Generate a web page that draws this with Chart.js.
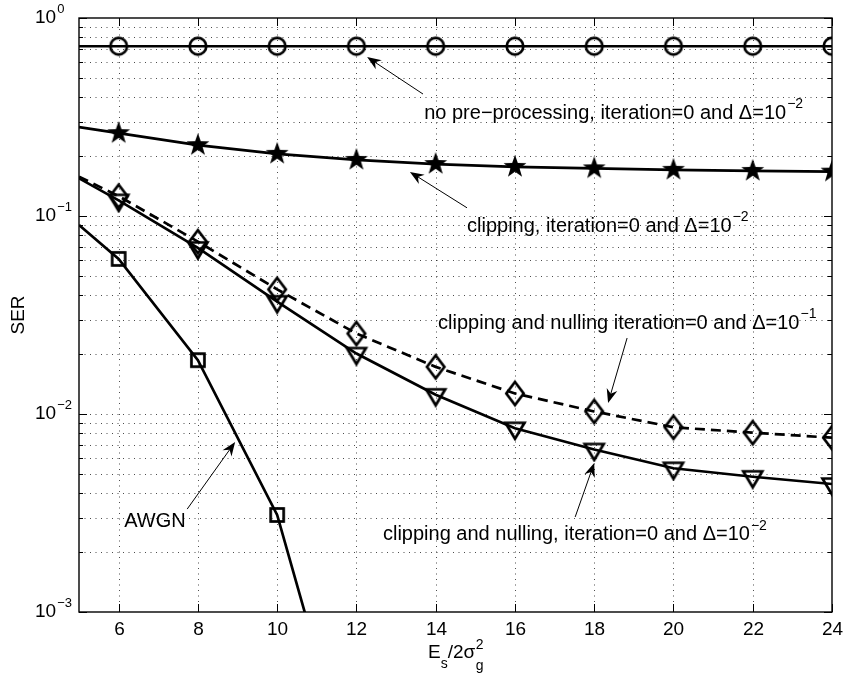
<!DOCTYPE html>
<html>
<head>
<meta charset="utf-8">
<script src="https://cdn.jsdelivr.net/npm/chart.js@4"></script>
<style>
  html, body { margin: 0; padding: 0; background: #fff; }
  #wrap { width: 846px; height: 678px; }
</style>
</head>
<body>
<div id="wrap"><canvas id="c" width="846" height="678"></canvas></div>
<script>
// SNR axis (Es/2σg²) and symbol error rates per scheme
const snr = [5, 6, 8, 10, 12, 14, 16, 18, 20, 22, 24];
const awgnSnr = [5, 6, 8, 10, 12];
const serNoPre = [0.72, 0.72, 0.72, 0.72, 0.72, 0.72, 0.72, 0.72, 0.72, 0.72, 0.72];
const serClip = [0.281, 0.262, 0.228, 0.206, 0.192, 0.183, 0.177, 0.174, 0.171, 0.169, 0.1675];
const serClipNullD1 = [0.158, 0.126, 0.0742, 0.0426, 0.0255, 0.0173, 0.0127, 0.0103, 0.00857, 0.00805, 0.00759];
const serClipNullD2 = [0.155, 0.120, 0.069, 0.0369, 0.0202, 0.0125, 0.00847, 0.00662, 0.00532, 0.00482, 0.00443];
const serAwgn = [0.090, 0.0607, 0.0187, 0.00309, 0.00012];

const xTicks = [6, 8, 10, 12, 14, 16, 18, 20, 22, 24];
const yDecades = [-3, -2, -1, 0];

const FONT = '"Liberation Sans", Arial, Helvetica, sans-serif';

// ---- marker glyphs (open symbols, filled pentagram) ----
function makeMarker(w, h, draw) {
  const c = document.createElement('canvas');
  c.width = w; c.height = h;
  const g = c.getContext('2d');
  g.translate(w / 2, h / 2);
  g.strokeStyle = '#000';
  g.fillStyle = '#000';
  g.lineWidth = 2.7;
  g.lineJoin = 'miter';
  draw(g);
  return c;
}
const mCircle = makeMarker(24, 24, g => { g.beginPath(); g.arc(0, 0, 8.3, 0, Math.PI * 2); g.stroke(); });
const mSquare = makeMarker(20, 20, g => { g.strokeRect(-6.5, -6.5, 13, 13); });
const mTriDown = makeMarker(26, 26, g => {
  g.beginPath(); g.moveTo(-9.5, -5.5); g.lineTo(9.5, -5.5); g.lineTo(0, 10.5); g.closePath(); g.stroke();
});
const mDiamond = makeMarker(24, 30, g => {
  g.beginPath(); g.moveTo(0, -11.5); g.lineTo(8.7, 0); g.lineTo(0, 11.5); g.lineTo(-8.7, 0); g.closePath(); g.stroke();
});
const mStar = makeMarker(28, 28, g => {
  g.beginPath();
  for (let i = 0; i < 10; i++) {
    const r = i % 2 === 0 ? 12 : 4.8;
    const a = -Math.PI / 2 + i * Math.PI / 5;
    const px = r * Math.cos(a), py = r * Math.sin(a);
    if (i === 0) g.moveTo(px, py); else g.lineTo(px, py);
  }
  g.closePath(); g.fill();
});

function pts(xs, ys) { return xs.map((x, i) => ({ x: x, y: ys[i] })); }
// no symbol on the first (axis-edge) sample
function radii(xs) { return xs.map(x => (x === 5 ? 0 : 8)); }

function series(xs, ys, marker, dash) {
  return {
    data: pts(xs, ys),
    showLine: true,
    borderColor: '#000',
    borderWidth: 2.7,
    borderDash: dash || [],
    backgroundColor: 'rgba(0,0,0,0)',
    pointStyle: marker,
    pointRadius: radii(xs),
    pointHoverRadius: radii(xs),
    tension: 0
  };
}

// ---- annotations, in data coordinates ----
const notes = [
  { x: 13.71, y: 0.331, parts: [['no pre\u2212processing, iteration=0 and \u0394=10'], ['\u22122', 'sup']] },
  { x: 14.79, y: 0.0890, parts: [['clipping, iteration=0 and \u0394=10'], ['\u22122', 'sup']] },
  { x: 14.06, y: 0.0288, parts: [['clipping and nulling iteration=0 and \u0394=10'], ['\u22121', 'sup']] },
  { x: 12.67, y: 0.00245, parts: [['clipping and nulling, iteration=0 and \u0394=10'], ['\u22122', 'sup']] },
  { x: 6.14, y: 0.00285, parts: [['AWGN']] }
];
const arrows = [
  { from: [13.68, 0.413], to: [12.27, 0.635] },
  { from: [14.79, 0.110], to: [13.35, 0.167] },
  { from: [18.83, 0.0242], to: [18.35, 0.01137] },
  { from: [17.52, 0.00302], to: [18.0, 0.00566] },
  { from: [7.73, 0.00331], to: [8.94, 0.00722] }
];

function drawParts(ctx, parts, x, y, size, supSize) {
  let cx = x;
  ctx.textBaseline = 'middle';
  ctx.textAlign = 'left';
  parts.forEach(p => {
    const kind = p[1];
    if (kind === 'sup') {
      ctx.font = supSize + 'px ' + FONT;
      ctx.fillText(p[0], cx + 1, y - size * 0.45);
      cx += ctx.measureText(p[0]).width + 1;
    } else {
      ctx.font = size + 'px ' + FONT;
      ctx.fillText(p[0], cx, y);
      cx += ctx.measureText(p[0]).width;
    }
  });
  return cx - x;
}

function drawArrow(ctx, x1, y1, x2, y2) {
  const ang = Math.atan2(y2 - y1, x2 - x1);
  const L = 14, W = 5.5, notch = 4.5;
  ctx.save();
  ctx.strokeStyle = '#000';
  ctx.fillStyle = '#000';
  ctx.lineWidth = 1;
  ctx.beginPath();
  ctx.moveTo(x1, y1);
  ctx.lineTo(x2 - Math.cos(ang) * (L - notch), y2 - Math.sin(ang) * (L - notch));
  ctx.stroke();
  ctx.translate(x2, y2);
  ctx.rotate(ang);
  ctx.beginPath();
  ctx.moveTo(0, 0);
  ctx.lineTo(-L, -W);
  ctx.lineTo(-L + notch, 0);
  ctx.lineTo(-L, W);
  ctx.closePath();
  ctx.fill();
  ctx.restore();
}

const axesPlugin = {
  id: 'matlabAxes',
  beforeDatasetsDraw(chart) {
    const { ctx, chartArea: a, scales: { x, y } } = chart;
    ctx.save();
    ctx.strokeStyle = 'rgba(0,0,0,0.7)';
    ctx.lineWidth = 1;
    ctx.setLineDash([1, 4.5]);
    // vertical grid
    xTicks.forEach(v => {
      if (v >= 24) return;
      const px = Math.round(x.getPixelForValue(v)) + 0.5;
      ctx.beginPath(); ctx.moveTo(px, a.top); ctx.lineTo(px, a.bottom); ctx.stroke();
    });
    // horizontal grid (decades and 2..9 minors)
    for (let d = -3; d < 0; d++) {
      for (let m = 1; m <= 9; m++) {
        if (d === -3 && m === 1) continue;
        const py = Math.round(y.getPixelForValue(m * Math.pow(10, d))) + 0.5;
        ctx.beginPath(); ctx.moveTo(a.left, py); ctx.lineTo(a.right, py); ctx.stroke();
      }
    }
    ctx.restore();
  },
  afterDatasetsDraw(chart) {
    const { ctx, chartArea: a, scales: { x, y } } = chart;
    ctx.save();
    ctx.strokeStyle = '#000';
    ctx.lineWidth = 1.4;
    ctx.setLineDash([]);
    ctx.strokeRect(a.left, a.top, a.right - a.left, a.bottom - a.top);

    ctx.lineWidth = 1;
    ctx.fillStyle = '#000';
    // x ticks (inward, top and bottom) and labels
    xTicks.forEach(v => {
      const px = Math.round(x.getPixelForValue(v)) + 0.5;
      ctx.beginPath();
      ctx.moveTo(px, a.bottom); ctx.lineTo(px, a.bottom - 8);
      ctx.moveTo(px, a.top); ctx.lineTo(px, a.top + 8);
      ctx.stroke();
      ctx.font = '19px ' + FONT;
      ctx.textAlign = 'center';
      ctx.textBaseline = 'middle';
      ctx.fillText(String(v), px, a.bottom + 18);
    });
    // y ticks (inward, both sides) and labels
    for (let d = -3; d <= 0; d++) {
      for (let m = 1; m <= 9; m++) {
        if (d === 0 && m > 1) break;
        const py = Math.round(y.getPixelForValue(m * Math.pow(10, d))) + 0.5;
        const len = m === 1 ? 8 : 4;
        ctx.beginPath();
        ctx.moveTo(a.left, py); ctx.lineTo(a.left + len, py);
        ctx.moveTo(a.right, py); ctx.lineTo(a.right - len, py);
        ctx.stroke();
      }
    }
    yDecades.forEach(d => {
      const py = y.getPixelForValue(Math.pow(10, d));
      ctx.font = '19px ' + FONT;
      ctx.textAlign = 'left';
      ctx.textBaseline = 'middle';
      ctx.fillText('10', 35, py);
      const w = ctx.measureText('10').width;
      ctx.font = '13px ' + FONT;
      ctx.fillText(d === 0 ? '0' : '\u2212' + Math.abs(d), 35 + w + 1, py - 9);
    });

    // axis titles
    ctx.save();
    ctx.translate(19, (a.top + a.bottom) / 2);
    ctx.rotate(-Math.PI / 2);
    ctx.font = '19px ' + FONT;
    ctx.textAlign = 'center';
    ctx.textBaseline = 'middle';
    ctx.fillText('SER', 0, 0);
    ctx.restore();

    const cxMid = (a.left + a.right) / 2;
    const yl = 653;
    ctx.font = '19px ' + FONT;
    const wE = ctx.measureText('E').width;
    const wM = ctx.measureText('/2\u03c3').width;
    ctx.font = '14px ' + FONT;
    const wS = ctx.measureText('s').width;
    const wG = Math.max(ctx.measureText('g').width, ctx.measureText('2').width);
    let lx = cxMid - (wE + wS + wM + wG) / 2;
    ctx.textAlign = 'left';
    ctx.textBaseline = 'middle';
    ctx.font = '19px ' + FONT;
    ctx.fillText('E', lx, yl); lx += wE;
    ctx.font = '14px ' + FONT;
    ctx.fillText('s', lx, yl + 11); lx += wS;
    ctx.font = '19px ' + FONT;
    ctx.fillText('/2\u03c3', lx, yl); lx += wM;
    ctx.font = '14px ' + FONT;
    ctx.fillText('2', lx + 0.5, yl - 8);
    ctx.fillText('g', lx + 0.5, yl + 13);

    // annotations
    notes.forEach(n => {
      drawParts(ctx, n.parts, x.getPixelForValue(n.x), y.getPixelForValue(n.y), 20, 14);
    });
    arrows.forEach(ar => {
      drawArrow(ctx,
        x.getPixelForValue(ar.from[0]), y.getPixelForValue(ar.from[1]),
        x.getPixelForValue(ar.to[0]), y.getPixelForValue(ar.to[1]));
    });
    ctx.restore();
  }
};

new Chart(document.getElementById('c'), {
  type: 'scatter',
  data: {
    datasets: [
      series(snr, serNoPre, mCircle),
      series(snr, serClip, mStar),
      series(snr, serClipNullD1, mDiamond, [10, 6]),
      series(snr, serClipNullD2, mTriDown),
      series(awgnSnr, serAwgn, mSquare)
    ]
  },
  options: {
    responsive: false,
    animation: false,
    devicePixelRatio: 1,
    layout: { padding: { left: 79, top: 18, right: 14, bottom: 66 } },
    plugins: { legend: { display: false }, tooltip: { enabled: false } },
    events: [],
    scales: {
      x: { type: 'linear', min: 5, max: 24, display: false },
      y: { type: 'logarithmic', min: 0.001, max: 1, display: false }
    }
  },
  plugins: [axesPlugin]
});
</script>
</body>
</html>
